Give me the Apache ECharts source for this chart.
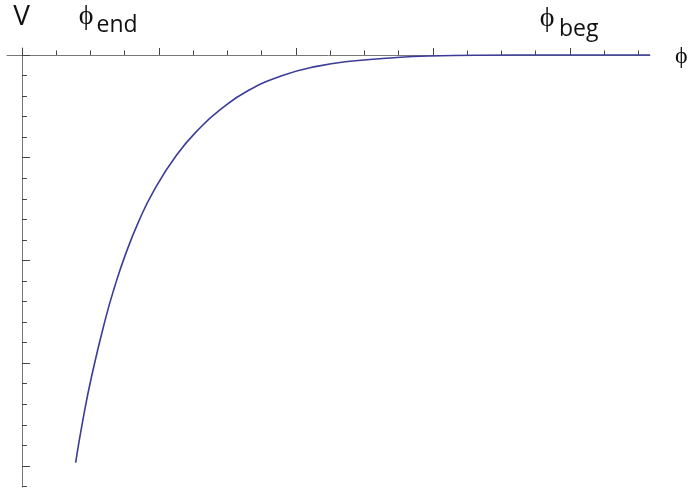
<!DOCTYPE html>
<html>
<head>
<meta charset="utf-8">
<script src="https://cdn.jsdelivr.net/npm/echarts@6/dist/echarts.min.js"></script>
<style>
html,body{margin:0;padding:0;background:#fff;}
#chart{width:689px;height:488px;}
</style>
</head>
<body>
<div id="chart"></div>
<script>
// Data (phi and V in major-tick units)
var phiValues = [0.392, 0.44, 0.509, 0.611, 0.679, 0.752, 0.849, 0.958, 1.129, 1.299, 1.445, 1.652, 1.907, 2.151, 2.394, 2.735, 2.978, 3.343, 3.854, 4.584];
var vValues   = [-3.968, -3.588, -3.125, -2.562, -2.247, -1.956, -1.630, -1.332, -0.974, -0.711, -0.535, -0.346, -0.198, -0.111, -0.061, -0.025, -0.010, -0.002, 0, 0];
var xMajorTicks = [0, 1, 2, 3, 4];
var xMinorTicks = [0.25, 0.5, 0.75, 1.25, 1.5, 1.75, 2.25, 2.5, 2.75, 3.25, 3.5, 3.75, 4.25, 4.5];
var yMajorTicks = [0, -1, -2, -3, -4];
var yMinorTicks = [-0.2, -0.4, -0.6, -0.8, -1.2, -1.4, -1.6, -1.8, -2.2, -2.4, -2.6, -2.8, -3.2, -3.4, -3.6, -3.8, -4.2];
var labels = { v: 'V', phi: '\u03D5', end: 'end', beg: 'beg' };

var xMin = -0.109, xMax = 4.584, yMin = -4.206, yMax = 0.068;
var points = phiValues.map(function (p, i) { return [p, vValues[i]]; });

var chart = echarts.init(document.getElementById('chart'), null, { renderer: 'canvas' });
var FONT = 'Open Sans';
function xAx(ticks, len, showLine) {
  return {
    type: 'value', min: xMin, max: xMax, position: 'top', gridIndex: 0,
    axisLine: { show: showLine, onZero: true, onZeroAxisIndex: 0, lineStyle: { color: '#777', width: 1 } },
    axisTick: { show: true, customValues: ticks, length: len, lineStyle: { color: '#444', width: 1 } },
    axisLabel: { show: false }, splitLine: { show: false }
  };
}
function yAx(ticks, len, showLine) {
  return {
    type: 'value', min: yMin, max: yMax, position: 'left', gridIndex: 0,
    axisLine: { show: showLine, onZero: true, onZeroAxisIndex: 0, lineStyle: { color: '#777', width: 1 } },
    axisTick: { show: true, inside: true, customValues: ticks, length: len, lineStyle: { color: '#444', width: 1 } },
    axisLabel: { show: false }, splitLine: { show: false }
  };
}
function txt(t, x, y, size, align) {
  return { type: 'text', x: x, y: y, silent: true,
    style: { text: t, fontFamily: FONT, fontSize: size, fill: '#111', align: align || 'left', verticalAlign: 'middle' } };
}
chart.setOption({
  animation: false,
  backgroundColor: '#fff',
  grid: { left: 7, right: 39, top: 48, bottom: 1, containLabel: false },
  xAxis: [xAx(xMajorTicks, 7, true), xAx(xMinorTicks, 4.5, false)],
  yAxis: [yAx(yMajorTicks, 8, true), yAx(yMinorTicks, 5, false)],
  series: [{
    type: 'line', xAxisIndex: 0, yAxisIndex: 0, data: points,
    smooth: 0.5, showSymbol: false, clip: false,
    lineStyle: { color: '#3b3c98', width: 1.6 }
  }],
  graphic: [
    txt(labels.v, 21.5, 16.6, 28, 'center'),
    txt(labels.phi, 86, 16.5, 28, 'center'),
    txt(labels.end, 96.5, 25.4, 23),
    txt(labels.phi, 547, 17.6, 28, 'center'),
    txt(labels.beg, 559, 29.7, 23),
    txt(labels.phi, 675, 55.8, 24)
  ]
});
</script>
</body>
</html>
